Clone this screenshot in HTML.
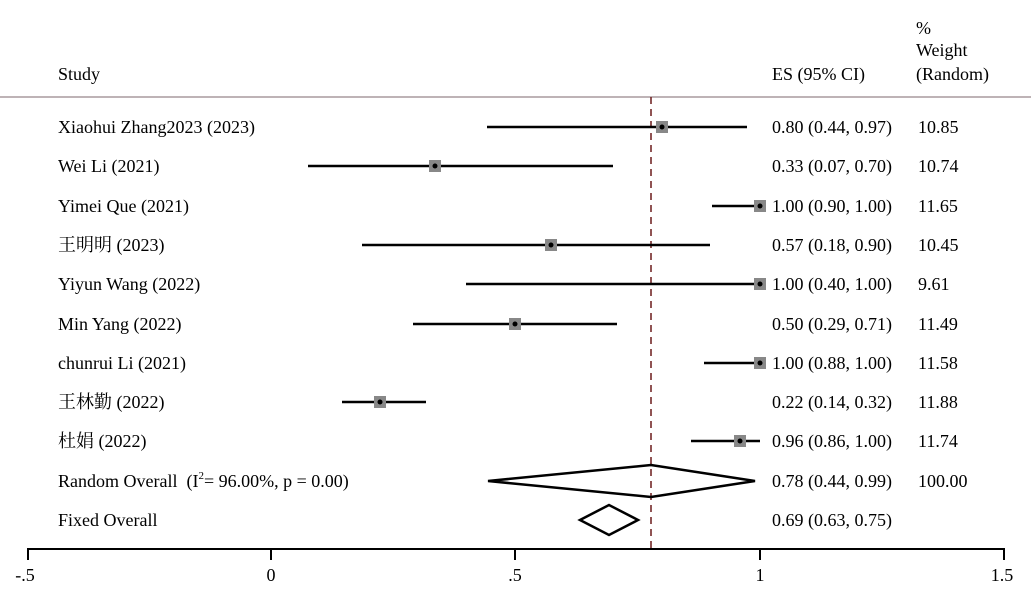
<!DOCTYPE html><html><head><style>body{margin:0;background:#fff}</style></head><body>
<svg width="1031" height="587" xmlns="http://www.w3.org/2000/svg" font-family="Liberation Serif, Noto Serif CJK SC, serif" font-size="18" fill="#000">
<text x="916" y="34">%</text><text x="916" y="56">Weight</text><text x="916" y="80">(Random)</text>
<text x="58" y="80">Study</text><text x="772" y="80">ES (95% CI)</text>
<line x1="0" y1="97" x2="1031" y2="97" stroke="#a89a9e" stroke-width="1.5"/>
<line x1="651" y1="97" x2="651" y2="548" stroke="#6b1a1a" stroke-width="1.5" stroke-dasharray="7,5"/>
<g id="rows" stroke="#000" stroke-width="2.5">
<line x1="487" y1="127" x2="747" y2="127"/><line x1="308" y1="166" x2="613" y2="166"/>
<line x1="712" y1="206" x2="760" y2="206"/><line x1="362" y1="245" x2="710" y2="245"/>
<line x1="466" y1="284" x2="760" y2="284"/><line x1="413" y1="324" x2="617" y2="324"/>
<line x1="704" y1="363" x2="760" y2="363"/><line x1="342" y1="402" x2="426" y2="402"/>
<line x1="691" y1="441" x2="760" y2="441"/>
</g>
<g fill="#888">
<rect x="656" y="121" width="12" height="12"/><rect x="429" y="160" width="12" height="12"/>
<rect x="754" y="200" width="12" height="12"/><rect x="545" y="239" width="12" height="12"/>
<rect x="754" y="278" width="12" height="12"/><rect x="509" y="318" width="12" height="12"/>
<rect x="754" y="357" width="12" height="12"/><rect x="374" y="396" width="12" height="12"/>
<rect x="734" y="435" width="12" height="12"/>
</g>
<g fill="#000"><circle cx="662" cy="127" r="2.5"/><circle cx="435" cy="166" r="2.5"/><circle cx="760" cy="206" r="2.5"/><circle cx="551" cy="245" r="2.5"/><circle cx="760" cy="284" r="2.5"/><circle cx="515" cy="324" r="2.5"/><circle cx="760" cy="363" r="2.5"/><circle cx="380" cy="402" r="2.5"/><circle cx="740" cy="441" r="2.5"/></g>
<polygon points="488,481 651,465 755,481 651,497" fill="none" stroke="#000" stroke-width="2.5"/>
<polygon points="580,520 609,505 638,520 609,535" fill="none" stroke="#000" stroke-width="2.5"/>
<g>
<text x="58" y="133">Xiaohui Zhang2023 (2023)</text><text x="772" y="133">0.80 (0.44, 0.97)</text><text x="918" y="133">10.85</text>
<text x="58" y="172">Wei Li (2021)</text><text x="772" y="172">0.33 (0.07, 0.70)</text><text x="918" y="172">10.74</text>
<text x="58" y="212">Yimei Que (2021)</text><text x="772" y="212">1.00 (0.90, 1.00)</text><text x="918" y="212">11.65</text>
<text x="58" y="251">王明明 (2023)</text><text x="772" y="251">0.57 (0.18, 0.90)</text><text x="918" y="251">10.45</text>
<text x="58" y="290">Yiyun Wang (2022)</text><text x="772" y="290">1.00 (0.40, 1.00)</text><text x="918" y="290">9.61</text>
<text x="58" y="330">Min Yang (2022)</text><text x="772" y="330">0.50 (0.29, 0.71)</text><text x="918" y="330">11.49</text>
<text x="58" y="369">chunrui Li (2021)</text><text x="772" y="369">1.00 (0.88, 1.00)</text><text x="918" y="369">11.58</text>
<text x="58" y="408">王林勤 (2022)</text><text x="772" y="408">0.22 (0.14, 0.32)</text><text x="918" y="408">11.88</text>
<text x="58" y="447">杜娟 (2022)</text><text x="772" y="447">0.96 (0.86, 1.00)</text><text x="918" y="447">11.74</text>
<text x="58" y="487" xml:space="preserve">Random Overall  (I<tspan font-size="11" dy="-8">2</tspan><tspan dy="8">= 96.00%, p = 0.00)</tspan></text><text x="772" y="487">0.78 (0.44, 0.99)</text><text x="918" y="487">100.00</text>
<text x="58" y="526">Fixed Overall</text><text x="772" y="526">0.69 (0.63, 0.75)</text>
</g>
<line x1="27" y1="549" x2="1005" y2="549" stroke="#000" stroke-width="2"/>
<g stroke="#000" stroke-width="2"><line x1="28" y1="548" x2="28" y2="560"/><line x1="271" y1="548" x2="271" y2="560"/><line x1="515" y1="548" x2="515" y2="560"/><line x1="760" y1="548" x2="760" y2="560"/><line x1="1004" y1="548" x2="1004" y2="560"/></g>
<g text-anchor="middle"><text x="25" y="581">-.5</text><text x="271" y="581">0</text><text x="515" y="581">.5</text><text x="760" y="581">1</text><text x="1002" y="581">1.5</text></g>
</svg></body></html>
